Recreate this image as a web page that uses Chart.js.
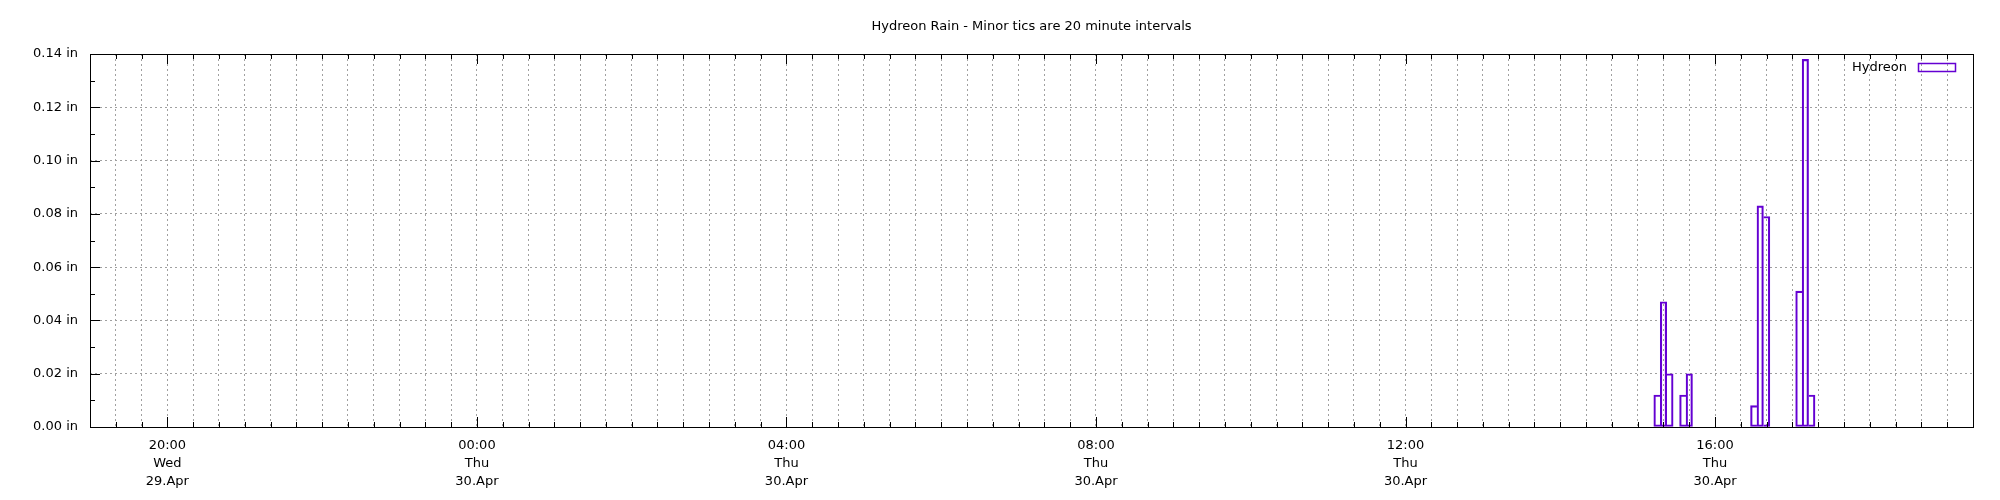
<!DOCTYPE html>
<html>
<head>
<meta charset="utf-8">
<title>Hydreon Rain</title>
<script src="https://cdn.jsdelivr.net/npm/chart.js@4.4.1/dist/chart.umd.min.js"></script>
<style>
  html, body { margin: 0; padding: 0; background: #fff; }
  #rainChart { display: block; }
</style>
</head>
<body>
<canvas id="rainChart" width="2000" height="500"></canvas>
<script>
// 5 minute rain totals from the Hydreon gauge, all on Thu 30.Apr
const rainTimes = ["15:15", "15:20", "15:25", "15:35", "15:40", "16:30", "16:35", "16:40", "17:05", "17:10", "17:15"];
const rainInches = [0.012, 0.047, 0.020, 0.012, 0.020, 0.008, 0.083, 0.079, 0.051, 0.138, 0.012];
const binMinutes = 5;

// x axis: Wed 29.Apr 19:00 .. Thu 30.Apr 19:20, counted in minutes
const axisStart = "19:00";
const axisEnd = "19:20";
const minorStep = 20;
const majorTimes = ["20:00", "00:00", "04:00", "08:00", "12:00", "16:00"];
const majorDays = ["Wed", "Thu", "Thu", "Thu", "Thu", "Thu"];
const majorDates = ["29.Apr", "30.Apr", "30.Apr", "30.Apr", "30.Apr", "30.Apr"];

// y axis, labelled ticks (minor tics sit halfway between)
const yMajorTicks = [0.00, 0.02, 0.04, 0.06, 0.08, 0.10, 0.12, 0.14];

const rainColor = "#6400d2";
const gridColor = "#a0a0a0";

// day 0 = 29.Apr, day 1 = 30.Apr
function minutesFrom(day, hhmm) {
  const [h, m] = hhmm.split(":").map(Number);
  const [h0, m0] = axisStart.split(":").map(Number);
  return day * 1440 + h * 60 + m - (h0 * 60 + m0);
}

const xMax = minutesFrom(1, axisEnd);
const majorMinutes = majorTimes.map((t, i) => minutesFrom(majorDates[i] === "29.Apr" ? 0 : 1, t));
const xTicks = [];
for (let v = 0; v <= xMax; v += minorStep) xTicks.push(v);

const yTicks = [];
yMajorTicks.forEach((v, i) => {
  yTicks.push(v);
  if (i < yMajorTicks.length - 1) yTicks.push((v + yMajorTicks[i + 1]) / 2);
});

const isMajorX = (v) => majorMinutes.includes(v);
const isMajorY = (v) => yMajorTicks.some((t) => Math.abs(t - v) < 1e-9);

// a box shares an edge with a taller neighbour -> let the neighbour draw it
function sharedEdge(ctx) {
  if (ctx.type !== "data") return false;
  const pts = ctx.dataset.data;
  const i = ctx.dataIndex;
  const p = pts[i];
  const prev = pts[i - 1];
  const next = pts[i + 1];
  if (prev && p.x - prev.x === binMinutes && prev.y > p.y) return "left";
  if (next && next.x - p.x === binMinutes && next.y > p.y) return "right";
  return false;
}

// frame, inward tics and the gnuplot style key
const gnuplotFrame = {
  id: "gnuplotFrame",
  afterDatasetsDraw(chart) {
    const { ctx, chartArea: a, scales } = chart;
    const x = scales.x;
    const y = scales.y;
    ctx.save();
    ctx.strokeStyle = "#000";
    ctx.lineWidth = 1;
    ctx.beginPath();
    x.ticks.forEach((t) => {
      const px = Math.round(x.getPixelForValue(t.value)) + 0.5;
      const len = isMajorX(t.value) ? 10 : 5;
      ctx.moveTo(px, a.bottom);
      ctx.lineTo(px, a.bottom - len);
      ctx.moveTo(px, a.top);
      ctx.lineTo(px, a.top + len);
    });
    y.ticks.forEach((t) => {
      const py = Math.round(y.getPixelForValue(t.value)) + 0.5;
      const len = isMajorY(t.value) ? 10 : 5;
      ctx.moveTo(a.left, py);
      ctx.lineTo(a.left + len, py);
    });
    ctx.stroke();
    ctx.strokeRect(Math.round(a.left) + 0.5, Math.round(a.top) + 0.5,
      Math.round(a.right - a.left), Math.round(a.bottom - a.top));

    const ds = chart.data.datasets[0];
    ctx.fillStyle = "#000";
    ctx.font = "13px 'DejaVu Sans'";
    ctx.textAlign = "right";
    ctx.textBaseline = "middle";
    ctx.fillText(ds.label, a.right - 66, a.top + 14);
    ctx.strokeStyle = ds.borderColor;
    ctx.lineWidth = 1.5;
    ctx.strokeRect(a.right - 54.5, a.top + 9.5, 37, 8);
    ctx.restore();
  }
};

Chart.defaults.font.family = "'DejaVu Sans'";
Chart.defaults.font.size = 13;
Chart.defaults.color = "#000";

new Chart(document.getElementById("rainChart"), {
  type: "bar",
  data: {
    datasets: [
      {
        label: "Hydreon",
        data: rainTimes.map((t, i) => ({ x: minutesFrom(1, t), y: rainInches[i] })),
        backgroundColor: "rgba(0,0,0,0)",
        borderColor: rainColor,
        borderWidth: 1.5,
        borderSkipped: sharedEdge,
        barPercentage: 1,
        categoryPercentage: 1,
      },
    ],
  },
  options: {
    responsive: false,
    animation: false,
    events: [],
    layout: { padding: { left: 33, right: 27, top: 0, bottom: 0 } },
    plugins: {
      legend: { display: false },
      tooltip: { enabled: false },
      title: {
        display: true,
        fullSize: false,
        text: "Hydreon Rain - Minor tics are 20 minute intervals",
        font: { size: 13, weight: "normal", lineHeight: "16px" },
        color: "#000",
        padding: { top: 19, bottom: 19 },
      },
    },
    scales: {
      x: {
        type: "linear",
        min: 0,
        max: xMax,
        offset: false,
        afterBuildTicks: (s) => { s.ticks = xTicks.map((v) => ({ value: v })); },
        afterFit: (s) => { s.height = 73; },
        ticks: {
          autoSkip: false,
          maxRotation: 0,
          padding: 9,
          font: { size: 13, lineHeight: 1.41 },
          callback: (v) => {
            const i = majorMinutes.indexOf(v);
            return i >= 0 ? [majorTimes[i], majorDays[i], majorDates[i]] : "";
          },
        },
        grid: {
          offset: false,
          drawTicks: false,
          color: gridColor,
          lineWidth: 1,
        },
        border: { display: false, dash: [2, 3] },
      },
      y: {
        min: 0,
        max: 0.14,
        afterBuildTicks: (s) => { s.ticks = yTicks.map((v) => ({ value: v })); },
        afterFit: (s) => { s.width = 57; },
        ticks: {
          padding: 12,
          autoSkip: false,
          callback: (v) => (isMajorY(v) ? v.toFixed(2) + " in" : ""),
        },
        grid: {
          drawTicks: false,
          color: (c) => (c.tick && isMajorY(c.tick.value) ? gridColor : "rgba(0,0,0,0)"),
          lineWidth: 1,
        },
        border: { display: false, dash: [2, 3] },
      },
    },
  },
  plugins: [gnuplotFrame],
});
</script>
</body>
</html>
